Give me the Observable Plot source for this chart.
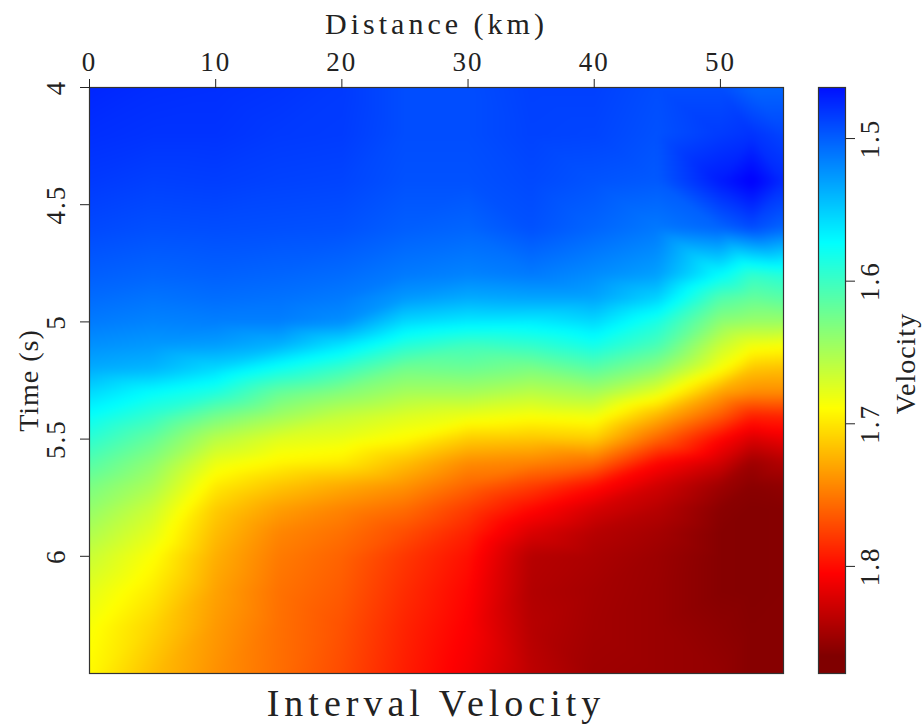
<!DOCTYPE html>
<html><head><meta charset="utf-8">
<script src="https://cdn.jsdelivr.net/npm/d3@7"></script>
<script src="https://cdn.jsdelivr.net/npm/@observablehq/plot@0.6"></script>
<style>
body{margin:0;background:#fff;}
#wrap{position:relative;width:924px;height:726px;overflow:hidden;background:#fff;}
#main,#bar{position:absolute;top:0;}
#main{left:0;}
#bar{left:790px;}
#title{position:absolute;left:89px;width:694px;top:680px;height:46px;text-align:center;font-family:"Liberation Serif",serif;font-size:38px;letter-spacing:5px;color:#222;line-height:46px;}
</style></head><body>
<div id="wrap"><div id="main"></div><div id="bar"></div><div id="title">Interval Velocity</div></div>
<script>
// Distance samples (km) and time samples (s)
const distances = [0, 5, 10, 15, 20, 25, 30, 35, 40, 45, 50, 52.5, 55];
const times = [4.0, 4.2, 4.4, 4.6, 4.8, 4.9, 5.0, 5.1, 5.2, 5.3, 5.4, 5.5, 5.6, 5.7, 5.8, 5.9, 6.0, 6.15, 6.3, 6.5];
// Interval velocity, one list per distance, aligned with times
const velocityByDistance = [
  [1.474,1.478,1.483,1.490,1.500,1.506,1.513,1.523,1.535,1.556,1.575,1.593,1.611,1.628,1.640,1.652,1.664,1.677,1.686,1.691],
  [1.477,1.480,1.486,1.493,1.503,1.510,1.517,1.527,1.540,1.573,1.596,1.619,1.637,1.651,1.666,1.677,1.688,1.698,1.708,1.718],
  [1.478,1.480,1.485,1.492,1.501,1.507,1.515,1.529,1.556,1.587,1.625,1.657,1.680,1.698,1.712,1.719,1.725,1.731,1.735,1.739],
  [1.480,1.483,1.487,1.493,1.503,1.509,1.515,1.538,1.579,1.619,1.645,1.675,1.693,1.715,1.733,1.744,1.749,1.753,1.754,1.755],
  [1.483,1.484,1.488,1.494,1.506,1.513,1.522,1.561,1.599,1.633,1.662,1.680,1.698,1.727,1.745,1.754,1.760,1.764,1.768,1.771],
  [1.492,1.492,1.494,1.500,1.513,1.527,1.556,1.590,1.625,1.648,1.673,1.691,1.718,1.738,1.756,1.770,1.780,1.785,1.789,1.792],
  [1.492,1.492,1.494,1.503,1.517,1.535,1.564,1.602,1.622,1.648,1.680,1.712,1.741,1.759,1.778,1.790,1.798,1.803,1.806,1.810],
  [1.486,1.487,1.490,1.494,1.513,1.532,1.565,1.596,1.629,1.657,1.686,1.715,1.745,1.777,1.802,1.822,1.838,1.840,1.838,1.835],
  [1.486,1.488,1.495,1.503,1.521,1.532,1.556,1.582,1.614,1.648,1.682,1.712,1.755,1.799,1.824,1.838,1.843,1.846,1.847,1.849],
  [1.492,1.494,1.498,1.512,1.530,1.553,1.585,1.606,1.637,1.677,1.722,1.759,1.802,1.826,1.838,1.846,1.850,1.851,1.851,1.851],
  [1.492,1.484,1.469,1.503,1.573,1.610,1.637,1.664,1.687,1.730,1.764,1.803,1.826,1.849,1.858,1.860,1.860,1.860,1.857,1.854],
  [1.503,1.480,1.456,1.492,1.596,1.619,1.643,1.683,1.715,1.741,1.790,1.822,1.849,1.858,1.861,1.861,1.861,1.861,1.860,1.860],
  [1.503,1.488,1.476,1.503,1.590,1.614,1.643,1.686,1.718,1.741,1.788,1.814,1.840,1.855,1.860,1.860,1.860,1.860,1.860,1.860]
];
const distanceTicks = [0, 10, 20, 30, 40, 50];
const timeTicks = [4, 4.5, 5, 5.5, 6];
const velocityTicks = [1.5, 1.6, 1.7, 1.8];
const colorbarRange = [1.4642, 1.8751];
const jetStops = [1.399, 1.457, 1.573, 1.689, 1.805, 1.863];
const jetColors = ["#000080", "#0000ff", "#00ffff", "#ffff00", "#ff0000", "#800000"];

const cells = [];
distances.forEach((km, i) => times.forEach((t, j) => cells.push({km, t, v: velocityByDistance[i][j]})));

const jet = {type: "linear", domain: jetStops, range: jetColors, interpolate: "rgb", clamp: true};
const font = {fontFamily: "Liberation Serif, serif", fontSize: "27px", letterSpacing: "2px", color: "#222", background: "transparent", overflow: "visible"};

const main = Plot.plot({
  width: 924, height: 680,
  marginTop: 87, marginLeft: 89, marginRight: 141, marginBottom: 7,
  style: font,
  x: {domain: [0, 55], label: null},
  y: {domain: [4, 6.5], reverse: true, label: null},
  color: jet,
  marks: [
    Plot.raster(cells, {x: "km", y: "t", fill: "v", interpolate: "barycentric", blur: 3, x1: 0, x2: 55, y1: 4, y2: 6.5}),
    Plot.frame({stroke: "#333", strokeWidth: 1.2}),
    Plot.axisX({anchor: "top", ticks: distanceTicks, tickSize: 9, tickPadding: 8, tickFormat: d => String(d), label: null}),
    Plot.axisY({anchor: "left", ticks: timeTicks, tickSize: 9, tickFormat: () => "", label: null}),
    Plot.axisY({anchor: "left", ticks: timeTicks, tickSize: 0, tickPadding: 18, dx: -7, tickRotate: -90, tickFormat: d => String(d), label: null}),
    Plot.text(["Distance (km)"], {frameAnchor: "top", dy: -63, textAnchor: "middle", lineAnchor: "middle", fontSize: 30, fill: "#222"}),
    Plot.text(["Time (s)"], {frameAnchor: "left", dx: -60, textAnchor: "middle", lineAnchor: "middle", rotate: -90, fontSize: 28, fill: "#222"})
  ]
});
document.getElementById("main").appendChild(main);

const bar = Plot.plot({
  width: 134, height: 726,
  marginTop: 87, marginBottom: 53, marginLeft: 28, marginRight: 79,
  style: font,
  x: {domain: [0, 1], axis: null},
  y: {domain: colorbarRange, reverse: true, label: null},
  color: jet,
  marks: [
    Plot.raster({fill: (x, y) => y, x1: 0, x2: 1, y1: colorbarRange[0], y2: colorbarRange[1]}),
    Plot.frame({stroke: "#333", strokeWidth: 1.2}),
    Plot.axisY({anchor: "right", ticks: velocityTicks, tickSize: 9, tickPadding: 24, tickRotate: -90, tickFormat: d => d.toFixed(1), label: null}),
    Plot.text(["Velocity"], {frameAnchor: "right", dx: 61, dy: -17, textAnchor: "middle", lineAnchor: "middle", rotate: -90, fontSize: 28, fill: "#222"})
  ]
});
document.getElementById("bar").appendChild(bar);

// letter spacing for the axis titles
const spacing = {"Distance (km)": "4px", "Time (s)": "1px", "Velocity": "1px"};
d3.selectAll("#wrap svg text").filter(function() { return this.textContent in spacing; })
  .style("letter-spacing", function() { return spacing[this.textContent]; });
</script>
</body></html>
